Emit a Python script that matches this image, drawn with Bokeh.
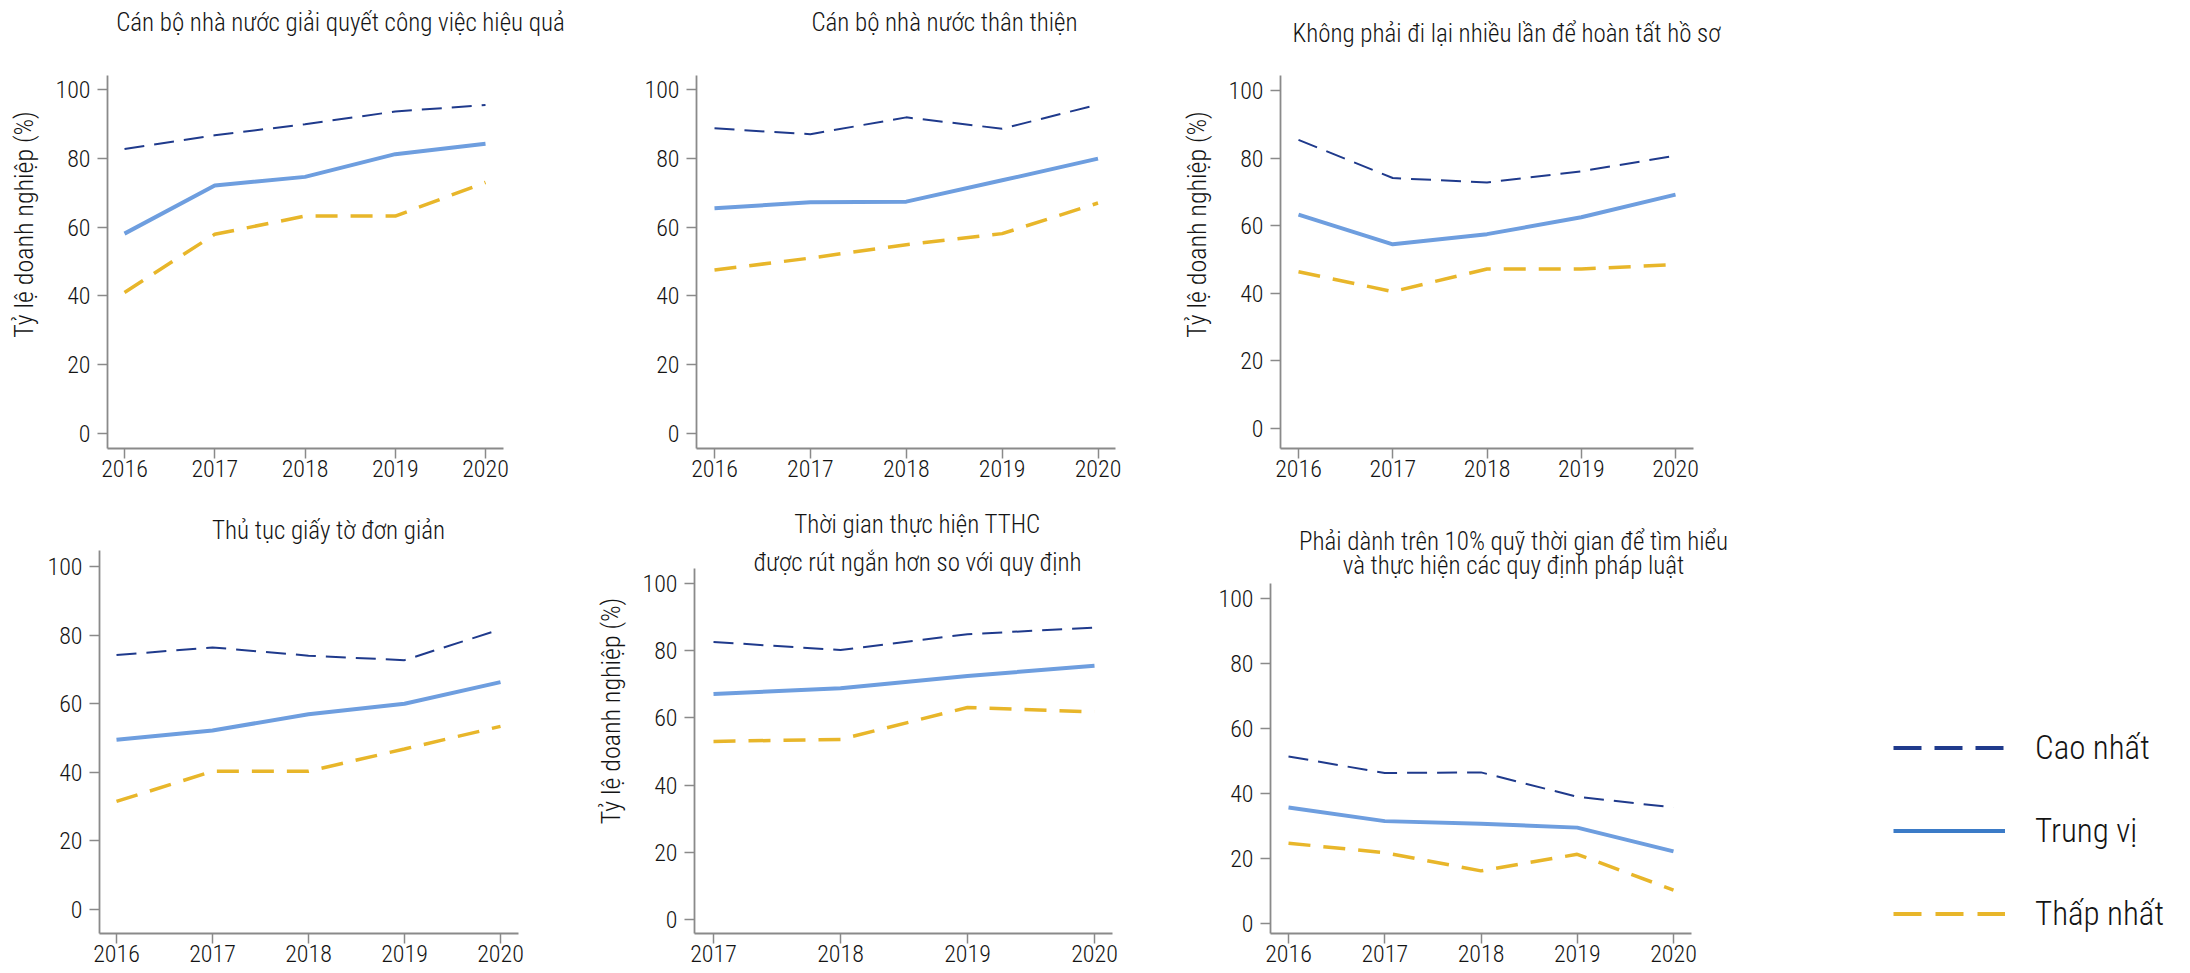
from bokeh.plotting import figure
from bokeh.layouts import row, column
from bokeh.models import Range1d, FixedTicker, Label, Legend, LegendItem, ColumnDataSource
from bokeh.embed import file_html
from bokeh.resources import INLINE

FONT = "Roboto Condensed Light, Roboto Condensed, Roboto"
NAVY = "#1f3a8c"
MEDIAN = "#6e9edf"
MEDIAN_LEG = "#3b7bc7"
GOLD = "#e8b62a"
AXIS = "#8a8a8a"
TEXT = "#141414"

# ---------------- data ----------------
years_5 = [2016, 2017, 2018, 2019, 2020]
years_4 = [2017, 2018, 2019, 2020]
y_ticks = [0, 20, 40, 60, 80, 100]
y_label = "Tỷ lệ doanh nghiệp (%)"
series_names = ["Cao nhất", "Trung vị", "Thấp nhất"]

title_1 = "Cán bộ nhà nước giải quyết công việc hiệu quả"
cao_1 = [82.7, 86.7, 89.9, 93.6, 95.5]
trung_vi_1 = [58.1, 72.1, 74.6, 81.2, 84.2]
thap_1 = [41.0, 57.9, 63.2, 63.2, 73.0]

title_2 = "Cán bộ nhà nước thân thiện"
cao_2 = [88.7, 87.0, 91.9, 88.6, 95.6]
trung_vi_2 = [65.5, 67.2, 67.4, 73.6, 79.9]
thap_2 = [47.5, 51.0, 54.9, 58.1, 67.0]

title_3 = "Không phải đi lại nhiều lần để hoàn tất hồ sơ"
cao_3 = [85.4, 74.1, 72.8, 76.1, 80.7]
trung_vi_3 = [63.3, 54.5, 57.5, 62.5, 69.2]
thap_3 = [46.4, 40.5, 47.2, 47.2, 48.5]

title_4 = "Thủ tục giấy tờ đơn giản"
cao_4 = [74.2, 76.4, 74.0, 72.7, 81.7]
trung_vi_4 = [49.5, 52.2, 56.9, 60.0, 66.3]
thap_4 = [31.5, 40.3, 40.3, 46.8, 53.4]

title_5 = "Thời gian thực hiện TTHC\nđược rút ngắn hơn so với quy định"
cao_5 = [82.6, 80.2, 84.9, 86.9]
trung_vi_5 = [67.1, 68.8, 72.5, 75.5]
thap_5 = [53.0, 53.6, 63.1, 61.8]

title_6 = "Phải dành trên 10% quỹ thời gian để tìm hiểu\nvà thực hiện các quy định pháp luật"
cao_6 = [51.4, 46.3, 46.5, 39.0, 35.7]
trung_vi_6 = [35.7, 31.5, 30.7, 29.5, 22.2]
thap_6 = [24.7, 21.8, 16.2, 21.3, 10.3]

# ---------------- layout in page pixels ----------------
TOP_H = 488
BOT_H = 485
BOTTOM_BORDER = 40


def panel_geo(fig_x0, fig_w, fig_y0, fig_h, axis_left, axis_right, axis_top,
              x_ref, y_ref, title_xy, line_h):
    (yr0, px0), (yr1, px1) = x_ref
    xppu = (px1 - px0) / (yr1 - yr0)
    (v0, q0), (v1, q1) = y_ref
    yppu = (q0 - q1) / (v1 - v0)
    frame_bottom = fig_y0 + fig_h - BOTTOM_BORDER
    return dict(
        w=fig_w, h=fig_h, bl=axis_left - fig_x0,
        xr=(yr0 - (px0 - axis_left) / xppu, yr0 + (fig_x0 + fig_w - px0) / xppu),
        xb=yr0 + (axis_right - px0) / xppu,
        yr=(v0 - (frame_bottom - q0) / yppu, v0 + (q0 - fig_y0) / yppu),
        yb=v0 + (q0 - axis_top) / yppu,
        tx=yr0 + (title_xy[0] - px0) / xppu,
        ty=v0 + (q0 - title_xy[1]) / yppu,
        lh=line_h,
    )


geo_1 = panel_geo(0, 590, 0, TOP_H, 107, 503, 75, ((2016, 124), (2020, 485)), ((0, 433), (100, 89)), (340, 22), 1.2)
geo_2 = panel_geo(590, 580, 0, TOP_H, 696, 1115, 75, ((2016, 714), (2020, 1097.5)), ((0, 433), (100, 89)), (944, 22), 1.2)
geo_3 = panel_geo(1170, 620, 0, TOP_H, 1280, 1693, 75, ((2016, 1298), (2020, 1675)), ((0, 428), (100, 90)), (1506, 33), 1.2)
geo_4 = panel_geo(0, 590, TOP_H, BOT_H, 99, 518, 550, ((2016, 116), (2020, 500)), ((0, 909), (100, 566)), (328, 530), 1.2)
geo_5 = panel_geo(590, 580, TOP_H, BOT_H, 694, 1112, 568, ((2017, 713), (2020, 1094)), ((0, 919), (100, 583)), (917, 543), 1.32)
geo_6 = panel_geo(1170, 620, TOP_H, BOT_H, 1270, 1691, 583, ((2016, 1288), (2020, 1673)), ((0, 923), (100, 598)), (1513, 553), 0.8)


def make_panel(title, years, cao, tv, thap, g, show_ylabel):
    p = figure(width=g["w"], height=g["h"],
               x_range=Range1d(*g["xr"]), y_range=Range1d(*g["yr"]),
               output_backend="svg", toolbar_location=None,
               min_border_left=g["bl"], min_border_right=0,
               min_border_top=0, min_border_bottom=BOTTOM_BORDER,
               outline_line_color=None, border_fill_color="white",
               background_fill_color="white")
    p.xgrid.visible = False
    p.ygrid.visible = False
    p.line(years, cao, line_color=NAVY, line_width=2, line_dash="20 10")
    p.line(years, tv, line_color=MEDIAN, line_width=4, line_join="round")
    p.line(years, thap, line_color=GOLD, line_width=3.5, line_dash="22 13")

    p.xaxis.ticker = FixedTicker(ticks=years)
    p.yaxis.ticker = FixedTicker(ticks=y_ticks)
    p.xaxis.bounds = (g["xr"][0], g["xb"])
    p.yaxis.bounds = (g["yr"][0], g["yb"])
    for ax in (p.xaxis[0], p.yaxis[0]):
        ax.axis_line_color = AXIS
        ax.axis_line_width = 1.8
        ax.major_tick_line_color = AXIS
        ax.major_tick_line_width = 1.5
        ax.major_tick_out = 10
        ax.major_tick_in = 0
        ax.minor_tick_line_color = None
        ax.major_label_text_font = FONT
        ax.major_label_text_font_size = "24px"
        ax.major_label_text_color = TEXT
    p.xaxis.major_label_standoff = 1
    p.yaxis.major_label_standoff = 7
    if show_ylabel:
        p.yaxis.axis_label = y_label
        p.yaxis.axis_label_text_font = FONT
        p.yaxis.axis_label_text_font_size = "26px"
        p.yaxis.axis_label_text_font_style = "normal"
        p.yaxis.axis_label_text_color = TEXT
        p.yaxis.axis_label_standoff = 13

    p.add_layout(Label(x=g["tx"], y=g["ty"],
                       text=title, text_align="center", text_baseline="middle",
                       text_font=FONT, text_font_size="25px", text_color=TEXT,
                       text_line_height=g["lh"]))
    return p


p1 = make_panel(title_1, years_5, cao_1, trung_vi_1, thap_1, geo_1, True)
p2 = make_panel(title_2, years_5, cao_2, trung_vi_2, thap_2, geo_2, False)
p3 = make_panel(title_3, years_5, cao_3, trung_vi_3, thap_3, geo_3, True)
p4 = make_panel(title_4, years_5, cao_4, trung_vi_4, thap_4, geo_4, False)
p5 = make_panel(title_5, years_4, cao_5, trung_vi_5, thap_5, geo_5, True)
p6 = make_panel(title_6, years_5, cao_6, trung_vi_6, thap_6, geo_6, False)

# ---------------- legend panel ----------------
lf = figure(width=400, height=BOT_H, x_range=Range1d(0, 1), y_range=Range1d(0, 1),
            x_axis_type=None, y_axis_type=None, output_backend="svg",
            toolbar_location=None, min_border_left=0, min_border_right=0,
            min_border_top=0, min_border_bottom=BOTTOM_BORDER,
            outline_line_color=None,
            border_fill_color="white", background_fill_color="white")
lf.xgrid.visible = False
lf.ygrid.visible = False
# one off-range point per key: nothing visible in the frame, the legend keys get the style
key_src = ColumnDataSource(data=dict(x=[5], y=[5]))
r_cao = lf.line("x", "y", source=key_src, line_color=NAVY, line_width=4, line_dash="28 13")
r_tv = lf.line("x", "y", source=key_src, line_color=MEDIAN_LEG, line_width=4)
r_thap = lf.line("x", "y", source=key_src, line_color=GOLD, line_width=4, line_dash="28 14")
legend = Legend(items=[LegendItem(label=series_names[0], renderers=[r_cao]),
                       LegendItem(label=series_names[1], renderers=[r_tv]),
                       LegendItem(label=series_names[2], renderers=[r_thap])],
                location=(103, 0), glyph_width=112, glyph_height=39, label_height=39,
                spacing=44, padding=0, margin=0, label_standoff=30,
                label_text_font=FONT, label_text_font_size="33px", label_text_color=TEXT,
                border_line_alpha=0, background_fill_alpha=0)
lf.add_layout(legend)

layout = column(row(p1, p2, p3), row(p4, p5, p6, lf))

open("out.html", "w").write(file_html(layout, INLINE))
